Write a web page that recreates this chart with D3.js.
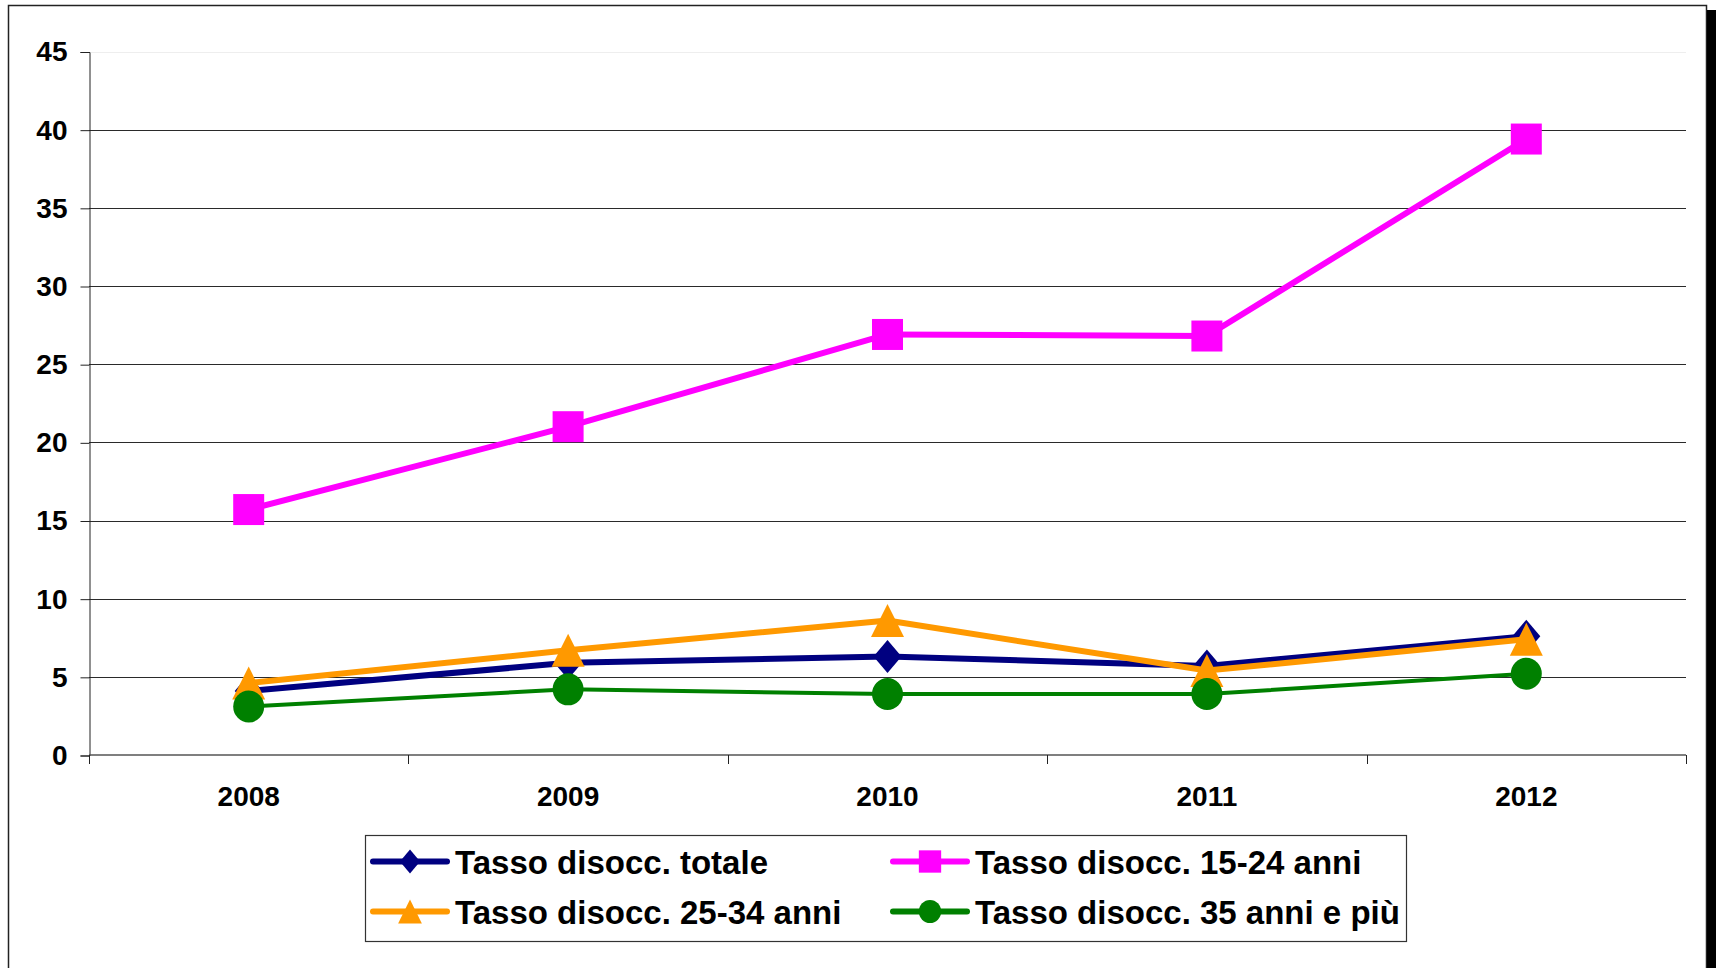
<!DOCTYPE html>
<html>
<head>
<meta charset="utf-8">
<script src="https://cdn.jsdelivr.net/npm/d3@7"></script>
<style>
  body { margin: 0; background: #fff; }
  svg text { font-family: "Liberation Sans", Arial, sans-serif; font-weight: bold; fill: #000; }
</style>
</head>
<body>
<div id="chart"></div>
<script>
// Data
const years = ["2008", "2009", "2010", "2011", "2012"];
const tassoTotale = [4.1, 5.9, 6.3, 5.7, 7.6];
const tasso1524 = [15.7, 21.0, 26.9, 26.8, 39.4];
const tasso2534 = [4.6, 6.7, 8.6, 5.4, 7.4];
const tasso35piu = [3.1, 4.2, 3.9, 3.9, 5.2];
const seriesNames = ["Tasso disocc. totale", "Tasso disocc. 15-24 anni", "Tasso disocc. 25-34 anni", "Tasso disocc. 35 anni e più"];
const yTicks = [0, 5, 10, 15, 20, 25, 30, 35, 40, 45];

const series = [
    { name: seriesNames[0], values: tassoTotale, color: "#000080", width: 6, shape: "diamond" },
    { name: seriesNames[1], values: tasso1524, color: "#FF00FF", width: 6, shape: "square" },
    { name: seriesNames[2], values: tasso2534, color: "#FF9900", width: 6, shape: "triangle" },
    { name: seriesNames[3], values: tasso35piu, color: "#008000", width: 4, shape: "circle" }
];

const W = 1716, H = 968;
const plot = { left: 89, right: 1686, top: 51.5, bottom: 755 };

const svg = d3.select("#chart")
    .append("svg")
    .attr("width", W)
    .attr("height", H);

// outer frame + shadow on the right
svg.append("rect")
    .attr("x", 8.5).attr("y", 5.5)
    .attr("width", 1698).attr("height", 1000)
    .attr("fill", "#fff")
    .attr("stroke", "#222")
    .attr("stroke-width", 1.5);
svg.append("rect")
    .attr("x", 1707).attr("y", 10)
    .attr("width", 9).attr("height", 1000)
    .attr("fill", "#000");

const x = d3.scaleBand()
    .domain(years)
    .range([plot.left, plot.right])
    .padding(0);

const y = d3.scaleLinear()
    .domain([0, 45])
    .range([plot.bottom, plot.top]);

const cx = d => x(d) + x.bandwidth() / 2;

// gridlines
svg.append("g")
    .selectAll("line")
    .data(yTicks.filter(t => t > 0))
    .enter()
    .append("line")
    .attr("x1", plot.left)
    .attr("x2", plot.right)
    .attr("y1", d => Math.round(y(d)) + 0.5)
    .attr("y2", d => Math.round(y(d)) + 0.5)
    .attr("stroke", d => d === 45 ? "#eeeeee" : "#2a2a2a")
    .attr("stroke-width", 1);

// y axis
const yAxis = d3.axisLeft(y)
    .tickValues(yTicks)
    .tickSize(9)
    .tickPadding(13);

const gy = svg.append("g")
    .attr("transform", `translate(${plot.left + 0.5},0.5)`)
    .call(yAxis);
gy.select(".domain").attr("stroke", "#222");
gy.selectAll(".tick line").attr("stroke", "#222");
gy.selectAll("text").style("font-size", "28px");

// x axis: labels centred in each band, ticks on band edges
const xAxis = d3.axisBottom(x)
    .tickSize(0)
    .tickPadding(31);

const gx = svg.append("g")
    .attr("transform", `translate(0,${plot.bottom})`)
    .call(xAxis);
gx.select(".domain").remove();
gx.selectAll("text").style("font-size", "28px");

svg.append("line")
    .attr("x1", plot.left).attr("x2", plot.right)
    .attr("y1", plot.bottom).attr("y2", plot.bottom)
    .attr("stroke", "#555")
    .attr("stroke-width", 1.5);

const edges = years.map(d => x(d)).concat([plot.right]);
svg.append("g")
    .selectAll("line")
    .data(edges)
    .enter()
    .append("line")
    .attr("x1", d => Math.round(d) + 0.5)
    .attr("x2", d => Math.round(d) + 0.5)
    .attr("y1", plot.bottom)
    .attr("y2", plot.bottom + 9)
    .attr("stroke", "#222");

// marker shapes
function markerPath(shape, s) {
    if (shape === "diamond") {
        const w = 28 * s / 2, h = 33 * s / 2;
        return `M0,${-h}L${w},0L0,${h}L${-w},0Z`;
    }
    if (shape === "square") {
        const a = 31 * s / 2;
        return `M${-a},${-a}H${a}V${a}H${-a}Z`;
    }
    if (shape === "triangle") {
        const w = 33 * s / 2, h = 33 * s / 2;
        return `M0,${-h}L${w},${h}L${-w},${h}Z`;
    }
    const rx = 15.5 * s, ry = 16 * s;
    return `M${-rx},0A${rx},${ry} 0 1,0 ${rx},0A${rx},${ry} 0 1,0 ${-rx},0Z`;
}

const line = d3.line()
    .x(d => cx(d.year))
    .y(d => y(d.value));

// series: line then markers, one after the other
series.forEach(s => {
    const pts = years.map((yr, i) => ({ year: yr, value: s.values[i] }));
    const g = svg.append("g");

    g.append("path")
        .datum(pts)
        .attr("d", line)
        .attr("fill", "none")
        .attr("stroke", s.color)
        .attr("stroke-width", s.width)
        .attr("stroke-linejoin", "round");

    g.selectAll(".marker")
        .data(pts)
        .enter()
        .append("path")
        .attr("class", "marker")
        .attr("transform", d => `translate(${cx(d.year)},${y(d.value)})`)
        .attr("d", markerPath(s.shape, 1))
        .attr("fill", s.color);
});

// legend
const legend = svg.append("g");
legend.append("rect")
    .attr("x", 365.5).attr("y", 835.5)
    .attr("width", 1041).attr("height", 106)
    .attr("fill", "#fff")
    .attr("stroke", "#333")
    .attr("stroke-width", 1.2);

const legendPos = [
    { x: 373, y: 861.5 },
    { x: 893, y: 861.5 },
    { x: 373, y: 911.5 },
    { x: 893, y: 911.5 }
];

series.forEach((s, i) => {
    const p = legendPos[i];
    const item = legend.append("g").attr("transform", `translate(${p.x},${p.y})`);
    item.append("line")
        .attr("x1", 0).attr("x2", 74)
        .attr("y1", 0).attr("y2", 0)
        .attr("stroke", s.color)
        .attr("stroke-width", 6)
        .attr("stroke-linecap", "round");
    item.append("path")
        .attr("transform", "translate(37,0)")
        .attr("d", markerPath(s.shape, 0.72))
        .attr("fill", s.color);
    item.append("text")
        .attr("x", 82)
        .attr("y", 12.5)
        .style("font-size", "33px")
        .text(s.name);
});
</script>
</body>
</html>
